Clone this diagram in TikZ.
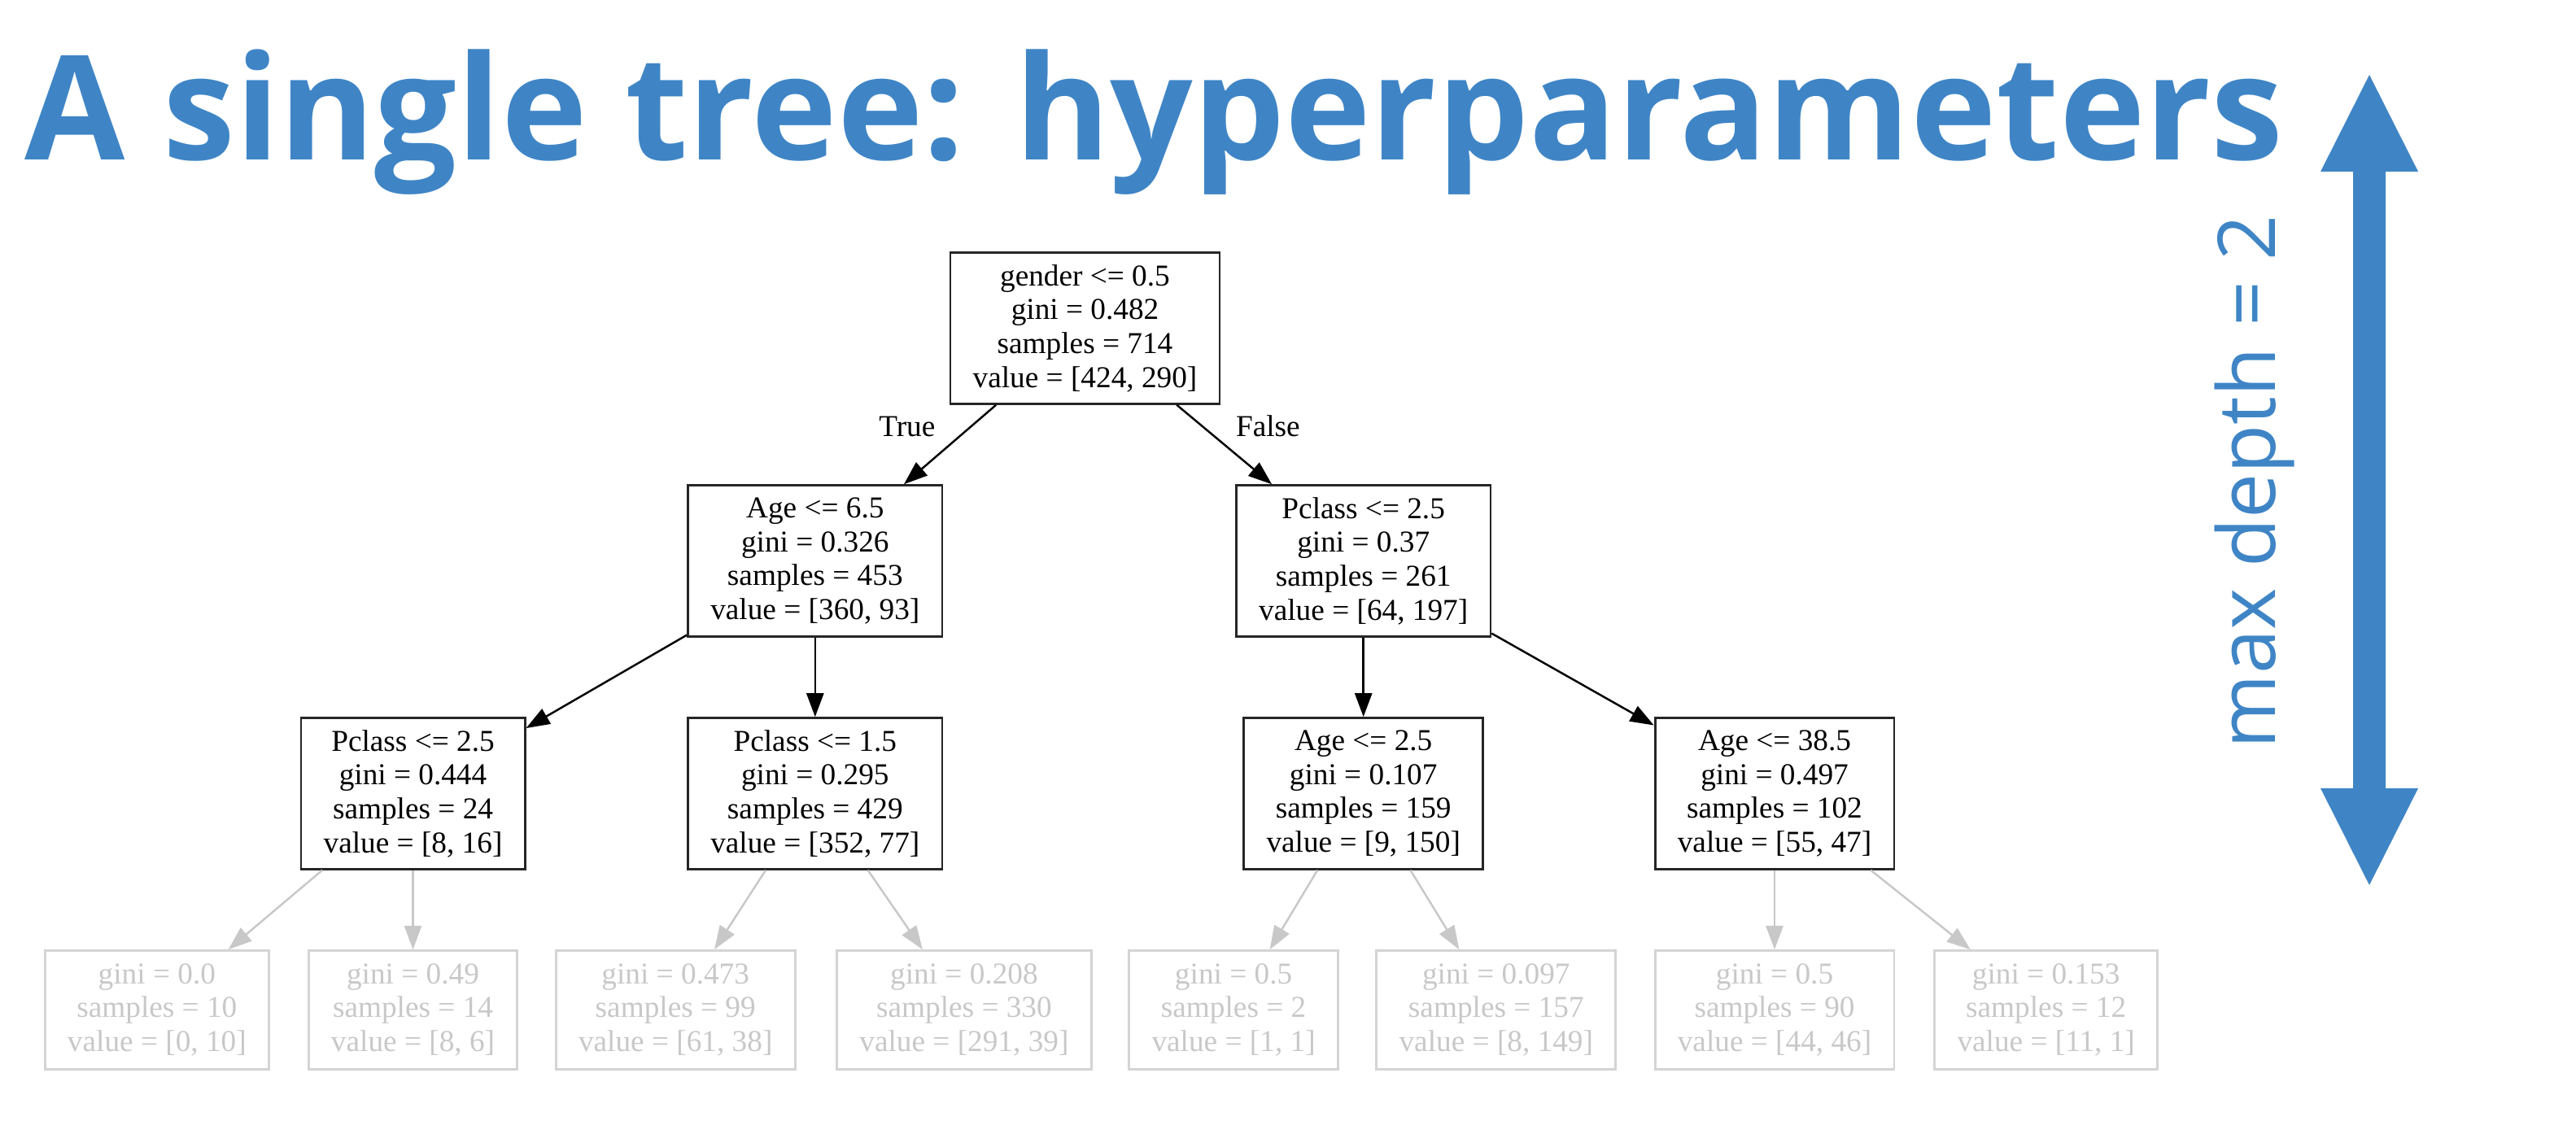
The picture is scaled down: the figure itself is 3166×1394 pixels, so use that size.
\documentclass[tikz,border=0pt]{standalone}
\usepackage{fontspec}
\usetikzlibrary{positioning,arrows.meta}
\newfontfamily\headfont{Open Sans}
\newfontfamily\treefont{Liberation Serif}
\definecolor{slideblue}{HTML}{3F85C6}
\definecolor{leafgray}{HTML}{C8C8C8}
\definecolor{leafline}{HTML}{D4D4D4}
\begin{document}
\begin{tikzpicture}
  [x=0.01cm, y=-0.01cm, node distance=0.975cm,
   split node/.style={rectangle, draw=black!85, line width=0.8pt, inner xsep=0.277cm, inner ysep=0pt,
     minimum height=1.855cm, align=center, font=\treefont\fontsize{10.6pt}{11.85pt}\selectfont},
   leaf node/.style={split node, draw=leafline, text=leafgray, minimum height=1.455cm},
   split edge/.style={-{Triangle[length=0.29cm, width=0.21cm]}, line width=0.7pt},
   leaf edge/.style={split edge, draw=leafgray},
   edge label/.style={inner sep=0pt, font=\treefont\fontsize{10.6pt}{11.85pt}\selectfont}]
  \useasboundingbox (0,0) rectangle (3166,1394);

  \node[anchor=base west, inner sep=0pt, text=slideblue,
    font=\headfont\bfseries\fontsize{50.8pt}{60pt}\selectfont] (title) at (30,196) {A single tree: hyperparameters};
  \node[rotate=90, anchor=base, inner sep=0pt, text=slideblue,
    font=\headfont\fontsize{27.9pt}{32pt}\selectfont] (depth) at (2796,592) {max depth = 2};
  \fill[slideblue] (2912,92) -- (2972,211) -- (2932,211) -- (2932,969) -- (2972,969) -- (2912,1088)
    -- (2852,969) -- (2892,969) -- (2892,211) -- (2852,211) -- cycle;

  \node[split node] (root) at (1333.5,403.5) {gender <= 0.5\\gini = 0.482\\samples = 714\\value = [424, 290]};
  \node[split node, below=of root, xshift=-3.315cm] (t) {Age <= 6.5\\gini = 0.326\\samples = 453\\value = [360, 93]};
  \node[split node, below=of root, xshift=3.42cm] (f) {Pclass <= 2.5\\gini = 0.37\\samples = 261\\value = [64, 197]};
  \node[split node, below=of t, xshift=-4.94cm] (tl) {Pclass <= 2.5\\gini = 0.444\\samples = 24\\value = [8, 16]};
  \node[split node, below=of t] (tr) {Pclass <= 1.5\\gini = 0.295\\samples = 429\\value = [352, 77]};
  \node[split node, below=of f] (fl) {Age <= 2.5\\gini = 0.107\\samples = 159\\value = [9, 150]};
  \node[split node, below=of f, xshift=5.05cm] (fr) {Age <= 38.5\\gini = 0.497\\samples = 102\\value = [55, 47]};

  \node[leaf node, below=of tl, xshift=-3.145cm] (tl1) {gini = 0.0\\samples = 10\\value = [0, 10]};
  \node[leaf node, below=of tl] (tl2) {gini = 0.49\\samples = 14\\value = [8, 6]};
  \node[leaf node, below=of tr, xshift=-1.715cm] (tr1) {gini = 0.473\\samples = 99\\value = [61, 38]};
  \node[leaf node, below=of tr, xshift=1.83cm] (tr2) {gini = 0.208\\samples = 330\\value = [291, 39]};
  \node[leaf node, below=of fl, xshift=-1.595cm] (fl1) {gini = 0.5\\samples = 2\\value = [1, 1]};
  \node[leaf node, below=of fl, xshift=1.63cm] (fl2) {gini = 0.097\\samples = 157\\value = [8, 149]};
  \node[leaf node, below=of fr] (fr1) {gini = 0.5\\samples = 90\\value = [44, 46]};
  \node[leaf node, below=of fr, xshift=3.335cm] (fr2) {gini = 0.153\\samples = 12\\value = [11, 1]};

  \draw[split edge] (root) -- node[pos=0.27, left=0.43cm, edge label] {True} (t);
  \draw[split edge] (root) -- node[pos=0.27, right=0.4cm, edge label] {False} (f);
  \draw[split edge] (t) -- (tl);
  \draw[split edge] (t) -- (tr);
  \draw[split edge] (f) -- (fl);
  \draw[split edge] (f) -- (fr);

  \draw[leaf edge] (tl) -- (tl1);
  \draw[leaf edge] (tl) -- (tl2);
  \draw[leaf edge] (tr) -- (tr1);
  \draw[leaf edge] (tr) -- (tr2);
  \draw[leaf edge] (fl) -- (fl1);
  \draw[leaf edge] (fl) -- (fl2);
  \draw[leaf edge] (fr) -- (fr1);
  \draw[leaf edge] (fr) -- (fr2);
\end{tikzpicture}
\end{document}
